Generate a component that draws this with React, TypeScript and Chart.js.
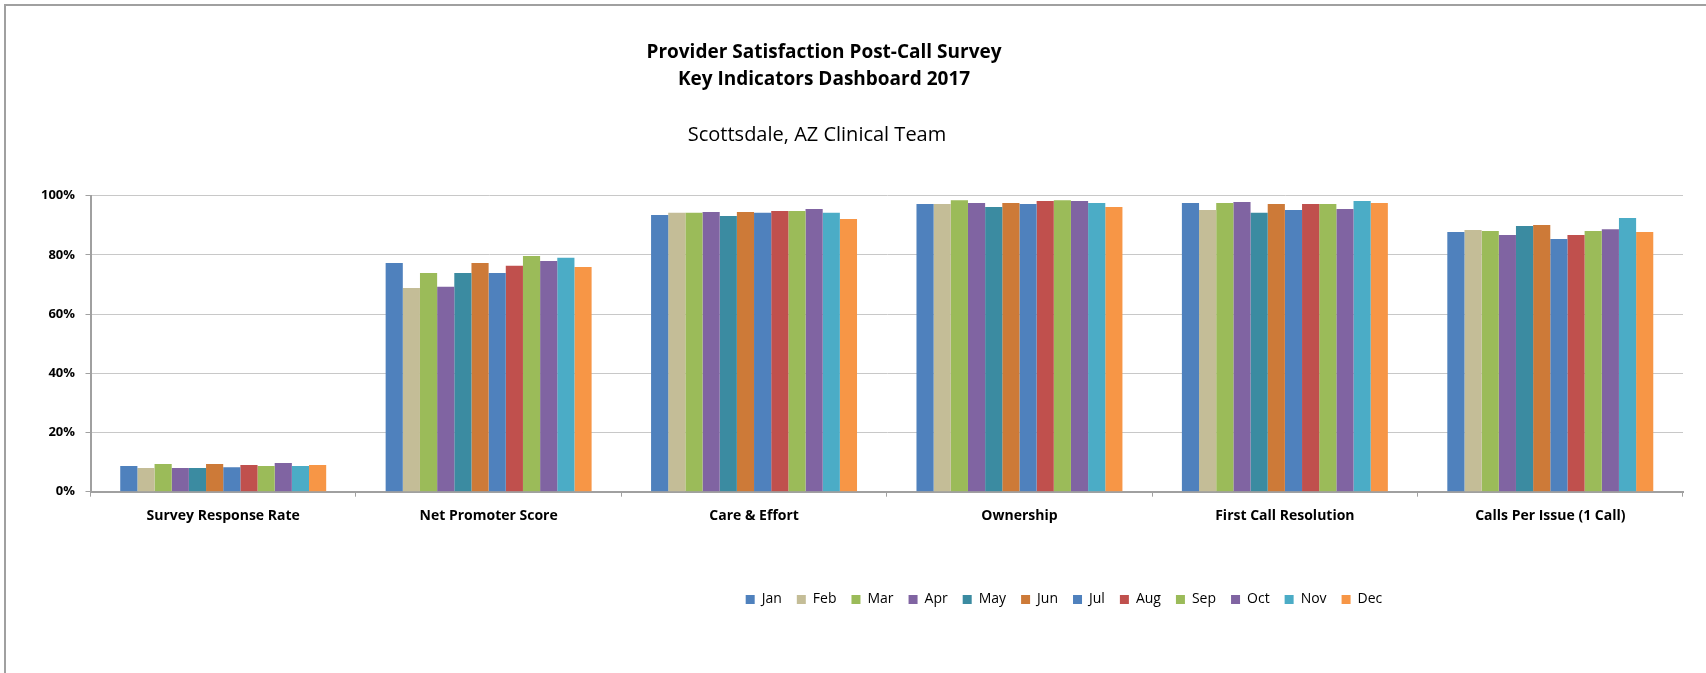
import React, { useEffect, useRef } from 'react';
import { Chart, registerables } from 'chart.js';

Chart.register(...registerables);

// ---------- data ----------
const categories = [
  'Survey Response Rate',
  'Net Promoter Score',
  'Care & Effort',
  'Ownership',
  'First Call Resolution',
  'Calls Per Issue (1 Call)',
];
const months = ['Jan', 'Feb', 'Mar', 'Apr', 'May', 'Jun', 'Jul', 'Aug', 'Sep', 'Oct', 'Nov', 'Dec'];

const jan = [8.7, 77.3, 93.5, 97.2, 97.5, 87.7];
const feb = [8.0, 68.8, 94.2, 97.2, 95.2, 88.4];
const mar = [9.4, 73.9, 94.2, 98.5, 97.5, 88.1];
const apr = [8.0, 69.2, 94.5, 97.5, 97.9, 86.7];
const may = [8.0, 73.9, 93.1, 96.2, 94.2, 89.8];
const jun = [9.4, 77.3, 94.5, 97.5, 97.2, 90.1];
const jul = [8.3, 73.9, 94.2, 97.2, 95.2, 85.4];
const aug = [9.0, 76.3, 94.8, 98.2, 97.2, 86.7];
const sep = [8.7, 79.6, 94.8, 98.5, 97.2, 88.1];
const oct = [9.7, 77.9, 95.5, 98.2, 95.5, 88.7];
const nov = [8.7, 79.0, 94.2, 97.5, 98.2, 92.5];
const dec = [9.0, 75.9, 92.1, 96.2, 97.5, 87.7];
const seriesValues = [jan, feb, mar, apr, may, jun, jul, aug, sep, oct, nov, dec];

const yTicks = [0, 20, 40, 60, 80, 100];

const titleLines = ['Provider Satisfaction Post-Call Survey', 'Key Indicators Dashboard 2017'];
const subtitleText = 'Scottsdale, AZ Clinical Team';

// ---------- styles ----------
const colors = [
  '#4F81BD', '#C4BD97', '#9BBB59', '#8064A2', '#3B8BA1', '#CD7A38',
  '#4F81BD', '#C0504D', '#9BBB59', '#8064A2', '#4BACC6', '#F79646',
];
const FONT = '"Open Sans", sans-serif';
const W = 1706;
const H = 673;
const LEGEND_CENTER = 1064;
const LEGEND_TOP = 577.5;
const TITLE_CENTER = 824;
const SUBTITLE_CENTER = 817;

const framePlugin = {
  id: 'frame',
  beforeDraw(chart: any) {
    const ctx = chart.ctx;
    ctx.save();
    ctx.fillStyle = '#ffffff';
    ctx.fillRect(0, 0, chart.width, chart.height);
    ctx.fillStyle = '#a0a0a0';
    ctx.fillRect(4, 4, chart.width - 4, 2);
    ctx.fillRect(4, 4, 2, chart.height - 4);
    ctx.restore();
  },
};

const placeBlocks = {
  id: 'placeBlocks',
  afterUpdate(chart: any) {
    const lg = chart.legend;
    if (lg) {
      const dx = LEGEND_CENTER - (lg.left + lg.right) / 2;
      lg.left += dx;
      lg.right += dx;
      const h = lg.height;
      lg.top = LEGEND_TOP;
      lg.bottom = LEGEND_TOP + h;
      lg.adjustHitBoxes();
    }
    for (const b of chart.boxes) {
      if (b && typeof b._drawArgs === 'function') {
        const target = b === chart.titleBlock ? TITLE_CENTER : SUBTITLE_CENTER;
        const dx = target - (b.left + b.right) / 2;
        b.left += dx;
        b.right += dx;
      }
    }
  },
};

export default function App() {
  const ref = useRef<HTMLCanvasElement | null>(null);

  useEffect(() => {
    document.body.style.margin = '0';
    const canvas = ref.current;
    if (!canvas) return;
    const chart = new Chart(canvas, {
      type: 'bar',
      data: {
        labels: categories,
        datasets: months.map((m, i) => ({
          label: m,
          data: seriesValues[i],
          backgroundColor: colors[i],
          borderWidth: 0,
          categoryPercentage: 0.776,
          barPercentage: 1.0,
        })),
      },
      options: {
        animation: false,
        responsive: false,
        devicePixelRatio: 1,
        layout: { padding: { left: 0, right: 23, top: 0, bottom: 111.3 } },
        plugins: {
          title: {
            display: true,
            text: titleLines,
            color: '#000',
            font: { family: FONT, size: 19, weight: 'bold', lineHeight: '27px' },
            padding: { top: 39, bottom: 0 },
          },
          subtitle: {
            display: true,
            text: subtitleText,
            color: '#000',
            font: { family: FONT, size: 20, weight: 'normal', lineHeight: '22px' },
            padding: { top: 31, bottom: 49.7 },
          },
          legend: {
            display: true,
            position: 'bottom',
            maxHeight: 30,
            labels: {
              boxWidth: 9,
              boxHeight: 9,
              padding: 15,
              color: '#000',
              font: { family: FONT, size: 14 },
            },
          },
          tooltip: { enabled: false },
        },
        scales: {
          x: {
            grid: {
              display: true,
              drawOnChartArea: false,
              drawTicks: true,
              tickLength: 5,
              tickColor: '#a0a0a0',
              offset: true,
            },
            border: { display: true, color: '#a0a0a0', width: 2 },
            ticks: {
              color: '#000',
              padding: 10.5,
              maxRotation: 0,
              autoSkip: false,
              font: { family: FONT, size: 14, weight: 'bold' },
            },
            afterFit: (s: any) => { s.height = 40; },
          },
          y: {
            min: 0,
            max: 100,
            afterBuildTicks: (s: any) => { s.ticks = yTicks.map((v) => ({ value: v })); },
            grid: {
              color: '#c8c8c8',
              lineWidth: 1,
              drawTicks: true,
              tickLength: 5,
              tickColor: '#a0a0a0',
            },
            border: { display: true, color: '#a0a0a0', width: 2 },
            ticks: {
              color: '#000',
              padding: 10.5,
              font: { family: FONT, size: 13, weight: 'bold' },
              callback: (v: any) => `${v}%`,
            },
            afterFit: (s: any) => { s.width = 90.5; },
          },
        },
      },
      plugins: [framePlugin, placeBlocks],
    } as any);
    return () => chart.destroy();
  }, []);

  return (
    <div style={{ position: 'absolute', left: 0, top: 0, width: W, height: H }}>
      <canvas ref={ref} width={W} height={H} style={{ display: 'block', width: W, height: H }} />
    </div>
  );
}
